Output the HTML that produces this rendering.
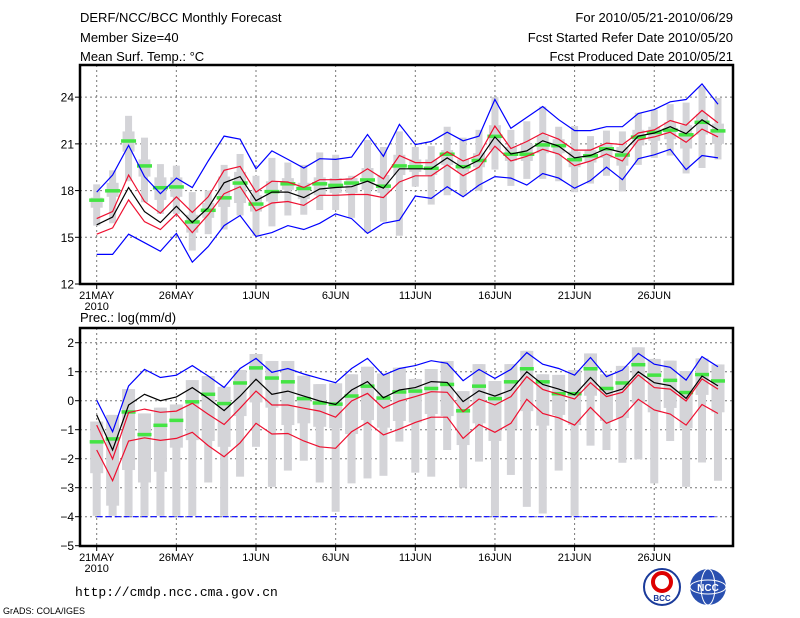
<!DOCTYPE html>
<html><head><meta charset="utf-8">
<style>
html,body{margin:0;padding:0;background:#fff;}
svg{display:block;font-family:"Liberation Sans",sans-serif;}
</style></head>
<body>
<svg id="chart" width="800" height="618" viewBox="0 0 800 618">
<text x="80" y="22" font-size="13">DERF/NCC/BCC Monthly Forecast</text>
<text x="80" y="42" font-size="13">Member Size=40</text>
<text x="80" y="61" font-size="13">Mean Surf. Temp.: °C</text>
<text x="733" y="22" font-size="13" text-anchor="end">For 2010/05/21-2010/06/29</text>
<text x="733" y="42" font-size="13" text-anchor="end">Fcst Started Refer Date 2010/05/20</text>
<text x="733" y="61" font-size="13" text-anchor="end">Fcst Produced Date 2010/05/21</text>
<text x="80" y="322" font-size="13">Prec.: log(mm/d)</text>
<text x="75" y="596" font-size="13" font-family="Liberation Mono, monospace">http://cmdp.ncc.cma.gov.cn</text>
<text x="3" y="614" font-size="9">GrADS: COLA/IGES</text>
<g>
<circle cx="662" cy="587" r="18" fill="#fff" stroke="#1a3a9a" stroke-width="2"/>
<circle cx="662" cy="582" r="9" fill="none" stroke="#d00" stroke-width="4"/>
<text x="662" y="601" font-size="8" text-anchor="middle" fill="#1a3a9a" font-weight="bold">BCC</text>
</g>
<g>
<circle cx="708" cy="587" r="18" fill="#2a50b0"/>
<ellipse cx="708" cy="587" rx="18" ry="7" fill="none" stroke="#fff" stroke-width="1"/>
<ellipse cx="708" cy="587" rx="7" ry="18" fill="none" stroke="#fff" stroke-width="1"/>
<text x="708" y="591" font-size="10" text-anchor="middle" fill="#fff" font-weight="bold">NCC</text>
</g>
<g id="top"></g>
<g id="bot"></g>
</svg>
<script>
const dayLabels = ["21MAY","26MAY","1JUN","6JUN","11JUN","16JUN","21JUN","26JUN"];
const tTicks = [12,15,18,21,24];
const pTicks = [-5,-4,-3,-2,-1,0,1,2];
const tBlueHi=[17.9,19.0,20.9,18.9,17.8,18.8,18.2,19.9,21.5,21.3,19.4,20.55,20.0,19.45,20.05,20.0,20.15,21.6,20.2,22.25,20.95,21.15,21.75,21.2,21.5,23.85,22.0,22.7,23.4,22.55,21.85,21.85,22.1,22.1,22.95,23.2,23.7,23.85,24.85,23.55];
const tBlueLo=[13.9,13.9,15.2,14.65,14.1,15.25,13.4,14.4,15.75,16.4,15.05,15.3,15.75,15.5,15.9,16.5,16.2,15.25,15.9,16.1,17.65,17.5,18.25,17.6,18.35,18.9,18.8,18.35,19.1,18.8,18.15,18.65,19.5,18.7,20.05,20.3,20.65,19.35,20.25,20.1];
const tRedHi=[16.2,16.65,19.0,17.3,16.55,17.6,16.6,17.6,19.3,19.55,17.9,18.6,18.55,18.2,18.7,18.7,18.75,19.4,18.75,20.25,19.8,19.8,20.5,19.9,20.3,22.15,20.7,21.15,21.7,21.3,20.6,20.6,21.05,20.95,21.7,21.9,22.5,22.2,23.15,22.35];
const tMean=[15.8,16.3,18.2,16.65,15.95,17.0,15.95,16.9,18.5,18.9,17.35,17.9,17.9,17.55,18.1,18.2,18.25,18.6,18.15,19.4,19.4,19.4,20.1,19.45,19.95,21.45,20.35,20.55,21.2,20.85,20.1,20.25,20.7,20.45,21.5,21.7,22.1,21.65,22.55,21.9];
const tRedLo=[15.2,15.6,17.4,16.0,15.5,16.5,15.3,16.45,17.8,18.25,16.7,17.2,17.3,17.05,17.7,17.7,17.75,17.75,17.55,18.55,18.95,18.95,19.65,18.95,19.5,20.85,19.9,20.2,20.65,20.35,19.6,19.9,20.35,19.9,21.25,21.45,21.75,21.1,21.95,21.45];
const tObs=[17.4,18.0,21.2,19.6,18.2,18.25,16.0,16.75,17.55,18.5,17.15,17.95,18.45,18.15,18.45,18.35,18.5,18.7,18.3,19.6,19.55,19.45,20.35,19.55,19.95,21.5,20.35,20.35,20.95,20.9,20.0,20.25,20.7,20.3,21.45,21.75,21.9,21.6,22.4,21.85];
const tMax=[18.4,19.3,22.8,21.4,19.7,19.6,17.9,18.0,19.65,20.35,18.95,20.1,19.8,19.65,20.45,20.3,18.95,21.25,20.8,21.8,20.8,20.85,22.1,21.4,21.9,24.0,21.9,22.45,23.4,22.1,22.15,21.5,21.85,21.8,23.0,23.2,23.55,23.65,24.7,23.95];
const tMin=[15.75,15.9,18.6,17.25,16.5,16.5,14.15,15.2,15.5,16.4,15.1,15.7,16.4,16.45,16.75,16.75,16.25,15.3,16.0,15.1,18.25,17.1,17.7,17.65,18.0,19.35,18.3,18.75,18.75,18.6,17.9,18.45,18.95,17.95,19.65,20.1,20.25,19.1,19.45,20.0];
const tQ3=[17.55,18.5,21.8,20.0,18.85,18.85,16.45,17.2,18.9,19.2,17.7,18.6,18.8,18.5,18.85,18.8,18.8,19.45,19.0,20.3,20.0,20.0,20.6,20.0,20.4,22.2,20.8,21.0,21.5,21.3,20.5,20.6,21.0,20.8,21.9,22.1,22.4,22.2,22.9,22.3];
const tQ1=[16.9,17.6,20.5,18.9,17.4,17.6,15.3,16.25,16.95,17.2,16.65,17.3,18.05,17.45,17.7,17.85,17.85,18.05,17.85,19.0,19.2,19.0,19.65,19.2,19.5,20.6,19.9,19.9,20.4,20.4,19.5,19.8,20.1,19.6,20.9,21.2,21.3,20.7,21.6,21.0];
const pBlue=[0.02,-1.07,0.51,1.08,0.80,0.88,1.21,0.85,0.46,1.11,1.46,0.98,1.11,0.92,0.77,0.62,1.11,1.46,0.88,1.11,1.21,1.38,1.29,0.69,1.08,0.77,1.08,1.66,1.26,1.11,0.88,1.49,0.83,1.06,1.63,1.26,1.15,0.71,1.52,1.17];
const pMean=[-0.49,-1.70,-0.15,0.22,0.0,0.13,0.45,0.08,-0.34,0.16,0.74,0.22,0.33,0.16,-0.01,-0.13,0.37,0.66,0.10,0.37,0.45,0.66,0.63,-0.03,0.34,0.16,0.37,1.0,0.56,0.40,0.20,0.80,0.23,0.40,1.0,0.62,0.52,0.08,0.85,0.51];
const pRed1=[-0.84,-2.01,-0.41,-0.29,-0.40,-0.36,-0.09,-0.47,-0.82,-0.26,0.33,-0.15,-0.15,-0.26,-0.36,-0.57,-0.01,0.25,-0.26,-0.01,0.14,0.31,0.29,-0.38,0.06,-0.15,0.14,0.83,0.39,0.22,0.06,0.62,0.14,0.29,0.89,0.45,0.40,-0.01,0.75,0.40];
const pRed2=[-1.70,-2.76,-1.39,-1.28,-1.37,-1.30,-1.09,-1.55,-1.93,-1.45,-0.78,-1.15,-1.13,-1.39,-1.59,-1.64,-1.07,-0.75,-1.18,-0.98,-0.75,-0.57,-0.57,-1.30,-0.82,-1.09,-0.78,0.05,-0.44,-0.59,-0.84,-0.23,-0.78,-0.55,0.05,-0.32,-0.46,-0.84,-0.13,-0.44];
const pObs=[-1.41,-1.31,-0.38,-1.16,-0.84,-0.67,-0.03,0.23,-0.09,0.62,1.14,0.79,0.66,0.08,-0.07,-0.11,0.17,0.51,0.10,0.31,0.34,0.43,0.57,-0.34,0.51,0.08,0.66,1.11,0.66,0.25,0.25,1.11,0.43,0.62,1.25,0.89,0.71,0.29,0.91,0.69];
const pMax=[-0.72,-0.49,0.40,-0.44,-0.24,-0.13,0.71,0.85,0.48,1.06,1.61,1.37,1.37,0.86,0.57,0.60,0.91,1.17,0.94,1.14,0.75,1.09,1.37,0.33,1.26,0.68,1.26,1.72,0.91,0.89,1.06,1.63,0.91,1.20,1.84,1.44,1.38,1.02,1.46,1.25];
const pMin=[-3.97,-3.97,-3.97,-3.97,-3.97,-3.97,-3.97,-2.82,-3.97,-2.62,-1.59,-2.97,-2.41,-2.07,-2.82,-3.83,-2.85,-2.68,-2.59,-1.41,-2.48,-2.62,-1.70,-3.0,-2.10,-3.97,-2.56,-3.66,-3.89,-2.41,-3.97,-1.55,-1.70,-2.14,-2.02,-2.85,-1.39,-2.97,-2.13,-2.76];
const pQ1=[-2.5,-3.62,-2.39,-2.82,-2.45,-1.62,-1.36,-1.39,-1.59,-0.53,-0.06,-0.24,-0.84,-0.78,-0.90,-0.95,-1.15,-0.67,-0.93,-0.70,-0.75,-0.46,-0.53,-1.53,-0.78,-1.39,-0.98,-0.36,-0.86,-0.49,-0.84,0.17,-0.7,-0.6,-0.09,-0.4,-0.25,-0.95,0.20,-0.40];
const pFloor = -4;

const NS="http://www.w3.org/2000/svg";
function X(d){return 96.7+15.93*d;}
function mk(parent,tag,attrs){const e=document.createElementNS(NS,tag);for(const k in attrs)e.setAttribute(k,attrs[k]);parent.appendChild(e);return e;}
const L=80,R=733;

function panel(g,top,bottom,vmin,vmax,ticks,Y){
  ticks.forEach(t=>{
    const y=Y(t);
    if(t>vmin&&t<vmax){const gl=mk(g,'line',{x1:L,x2:R,y1:y,y2:y,stroke:'#777','stroke-dasharray':'2,3','stroke-width':1});
    
    }
    const tk=mk(g,'line',{x1:L-5,x2:L,y1:y,y2:y,stroke:'#000'});
    
    
    const tx=mk(g,'text',{x:L-6,y:y+4.5,'font-size':12,'text-anchor':'end'});
    tx.textContent=(t<0?'\u2212'+(-t):t);
    
    
  });
  dayLabels.forEach((lab,i)=>{
    const x=X(i*5);
    const gl=mk(g,'line',{x1:x,x2:x,y1:top,y2:bottom,stroke:'#777','stroke-dasharray':'2,3'});
    
    
    const tk=mk(g,'line',{x1:x,x2:x,y1:bottom,y2:bottom+5,stroke:'#000'});
    
    
    const tx=mk(g,'text',{x:x,y:bottom+15,'font-size':11,'text-anchor':'middle'});
    tx.textContent=lab;
    
    
  });
  const yr=mk(g,'text',{x:X(0),y:bottom+26,'font-size':11,'text-anchor':'middle'});
  yr.textContent='2010';
  
  
}
function frame(g,top,bottom){
  const f=mk(g,'rect',{x:L,y:top,width:R-L,height:bottom-top,fill:'none',stroke:'#000','stroke-width':2.5});
  
  
}
function line(g,arr,Y,color,name,extra){
  const pts=arr.map((v,i)=>X(i).toFixed(1)+','+Y(v).toFixed(1)).join(' ');
  const p=mk(g,'polyline',Object.assign({points:pts,fill:'none',stroke:color,'stroke-width':1.2},extra||{}));
  
  
}
function boxes(g,hi,lo,q3,q1,Y,wn,ww){
  hi.forEach((v,i)=>{
    const x=X(i);
    const w=mk(g,'rect',{x:x-wn/2,y:Y(v),width:wn,height:Y(lo[i])-Y(v),fill:'#d4d4d8'});
    
    
    const b=mk(g,'rect',{x:x-ww/2,y:Y(q3[i]),width:ww,height:Y(q1[i])-Y(q3[i]),fill:'#d4d4d8'});
    
    
  });
}
function obs(g,arr,Y,w){
  arr.forEach((v,i)=>{
    const r=mk(g,'rect',{x:X(i)-w/2,y:Y(v)-1.5,width:w,height:3.5,fill:'#44e444'});
    
    
  });
}

const tTop=65,tBot=284;
const Yt=v=>284-(v-12)*15.57;
const gt=document.getElementById('top');


panel(gt,tTop,tBot,12,26,tTicks,Yt);
boxes(gt,tMax,tMin,tQ3,tQ1,Yt,7,12);
obs(gt,tObs,Yt,15);
line(gt,tBlueHi,Yt,'#0000ff','temp-max-line');
line(gt,tBlueLo,Yt,'#0000ff','temp-min-line');
line(gt,tRedHi,Yt,'#ee1030','temp-upper-std-line');
line(gt,tRedLo,Yt,'#ee1030','temp-lower-std-line');
line(gt,tMean,Yt,'#000','temp-mean-line');
frame(gt,tTop,tBot);

const pTop=328,pBot=546;
const Yp=v=>342.7+(2-v)*29.0;
const gp=document.getElementById('bot');


panel(gp,pTop,pBot,-5,2.5,pTicks,Yp);
boxes(gp,pMax,pMin,pMax,pQ1,Yp,8,13);
obs(gp,pObs,Yp,14);
line(gp,pBlue,Yp,'#0000ff','precip-max-line');
line(gp,pBlue.map(()=>pFloor),Yp,'#0000ff','precip-min-line',{'stroke-dasharray':'6,3'});
line(gp,pRed1,Yp,'#ee1030','precip-upper-std-line');
line(gp,pRed2,Yp,'#ee1030','precip-lower-std-line');
line(gp,pMean,Yp,'#000','precip-mean-line');
frame(gp,pTop,pBot);
</script>
</body></html>
